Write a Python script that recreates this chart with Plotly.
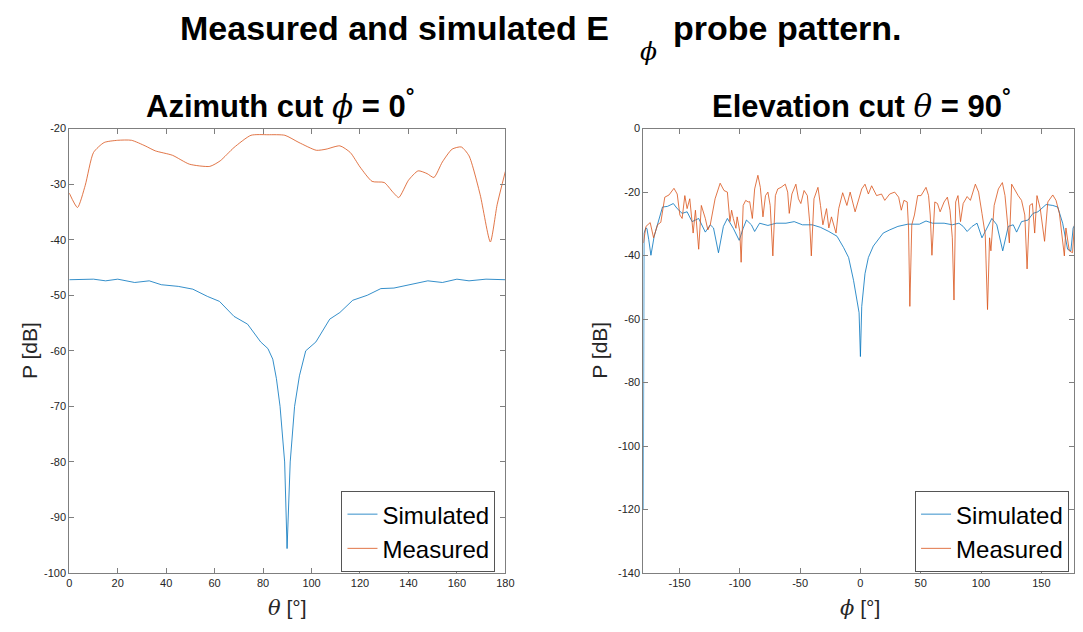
import plotly.graph_objects as go

# ---------------- data ----------------
# Left: azimuth cut (phi = 0), x = theta [deg]
az_sim_theta = [0, 5, 10, 15, 20, 27, 33, 38, 45, 51, 57, 62, 68, 73.6, 79, 82, 84, 85.5, 87, 88.9, 89.9,
                91.2, 93, 95, 97.6, 101.8, 107.5, 111.7, 117, 123, 128.6, 134, 141, 148, 154, 160, 165, 172, 180]
az_sim_val = [-47.2, -47.2, -47.1, -47.4, -47.1, -47.7, -47.4, -48.1, -48.4, -48.9, -50.2, -51.1, -53.8, -55.2,
              -58.4, -59.6, -61.5, -65.0, -70.0, -80.0, -95.6,
              -80.0, -70.0, -64.5, -60.0, -58.4, -54.3, -53.1, -50.9, -50.0, -48.8, -48.7, -48.1, -47.4, -47.7,
              -47.1, -47.4, -47.1, -47.2]

az_meas_theta = [0, 3.4, 6.6, 10, 14.4, 20, 25.7, 31.3, 35.5, 42.6, 49.6, 58, 62.3, 68, 75, 82, 89, 94.8, 102,
                 106, 111.7, 116, 120, 125, 130, 133.5, 136, 140, 144, 147.7, 150.5, 154, 158, 161.8, 165,
                 169.6, 173.8, 176.6, 180]
az_meas_val = [-31.6, -34.2, -30.2, -24.3, -22.5, -22.1, -22.1, -23.1, -24.0, -24.8, -26.4, -26.8, -25.8, -23.4,
               -21.2, -21.1, -21.2, -22.5, -23.9, -23.7, -23.1, -24.3, -26.9, -29.5, -29.7, -31.4, -32.4, -29.3,
               -27.6, -28.1, -28.8, -26.0, -23.7, -23.3, -24.9, -31.9, -40.4, -33.7, -27.7]

# Right: elevation cut (theta = 90), x = phi [deg]
el_sim_phi = [-180, -179.4, -178, -177, -175.5, -173.7, -171, -166.9, -164.1, -160, -155.1, -151.9, -147.8,
              -143.7, -139.6, -136.8, -134.1, -128.6, -124.5, -121.8, -117.7, -113.6, -110.3, -105.4, -100.5,
              -97.2, -94.5, -90.4, -87.7, -83.6, -76.7, -69.9, -61.7, -54.9, -48.1, -39.9, -33.1, -26.2, -19.4,
              -13.9, -9.8, -5.7, -3, -1.1, 0, 1.1, 3.8, 6.6, 10.7, 14.8, 18.9, 24.3, 31.1, 39.3, 48.9, 54.4,
              59.8, 69.4, 76.2, 81.7, 85.2, 88.5, 92.6, 96.7, 100.8, 103.5, 109, 113.1, 118, 122.6, 126.7,
              129.5, 133.6, 139, 143.1, 147.2, 154, 159.5, 163.6, 167.7, 171.8, 174.5, 176.4, 177.5]
el_sim_val = [-120, -33.0, -31.3, -31.5, -35.0, -39.9, -33.9, -28.3, -24.7, -24.5, -23.6, -25.2, -26.7,
              -26.2, -29.3, -28.8, -28.3, -32.6, -30.3, -31.3, -39.1, -30.8, -28.3, -31.4, -35.2,
              -31.4, -28.8, -30.3, -32.4, -29.8, -30.5, -29.8, -29.8, -29.3, -30.3, -30.3, -31.1, -32.4, -33.9,
              -37.5, -40.6, -47.8, -54.0, -58.0, -71.8, -56.0, -45.7, -40.6, -37.0, -35.0, -32.9, -31.9, -30.8,
              -30.1, -30.1, -29.1, -29.8, -29.8, -30.3, -29.8, -30.8, -32.4, -30.8, -29.8, -34.4, -32.4, -28.3,
              -30.3, -38.5, -30.8, -30.3, -32.6, -29.3, -28.8, -26.7, -26.2, -23.9, -24.2, -24.7, -29.8, -38.0,
              -38.5, -31.3, -30.5]

el_meas_phi = [-180, -179.7, -177.8, -174.3, -171.5, -168.2, -165.5, -162.2, -158.7, -154.6, -151.9, -149.7,
               -147.8, -145.6, -143.7, -141.5, -139.6, -138.7, -136.8, -134.1, -131.9, -128.6, -126.5, -124.5,
               -120.5, -116.3, -113.1, -110.3, -108.2, -106.8, -105.4, -103.2, -102.2, -100, -98.9, -97.2,
               -95.1, -93.1, -91.8, -89.6, -87.7, -85, -83, -80.8, -78.7, -76.7, -74.8, -72.6, -70.5, -68.5,
               -65.8, -62.3, -60.3, -59, -56.8, -53.5, -51.4, -49.4, -46.7, -44, -42.1, -40.7, -38.5, -35.2,
               -33.1, -31.1, -28.1, -26.2, -24, -22.1, -20.2, -18, -14.7, -11.2, -8.5, -4.4, -1.6, 1.1, 3.8,
               6.6, 9.3, 13.4, 17.5, 20.2, 24.3, 28.4, 31.7, 33.9, 36.1, 38.8, 39.9, 41, 42.6, 44.8, 47.5, 50.3,
               54.4, 56.5, 57.9, 59.3, 61.7, 63.9, 66.1, 69.4, 72.1, 74.3, 76.2, 77.6, 79, 80.9, 83, 85.2, 88.5,
               91.2, 95.3, 98, 100.8, 103.5, 105.4, 107.1, 108.2, 110.9, 114.4, 117.7, 119.9, 121.8, 123.5,
               125.4, 128.1, 130.8, 133.6, 136.3, 138.2, 140.4, 142.6, 144.5, 146.4, 149.1, 152.7, 155.4,
               159.5, 162.2, 165, 169.1, 170.4, 173.2, 175.9, 177.5]
el_meas_val = [-36.0, -35.5, -30.8, -29.6, -34.4, -30.3, -29.5, -21.6, -20.9, -18.8, -20.6, -27.2,
               -28.3, -21.1, -25.2, -22.1, -29.3, -32.9, -25.7, -38.0, -24.2, -28.3, -31.9, -30.3,
               -22.1, -17.2, -19.5, -20.0, -29.3, -25.7, -28.3, -31.4, -27.8, -32.4, -42.1, -24.2,
               -22.6, -23.1, -23.0, -28.3, -19.0, -14.7, -18.5, -27.8, -21.1, -20.0, -24.2, -40.1, -21.1, -19.0,
               -18.5, -17.5, -20.0, -26.7, -20.6, -17.5, -22.1, -23.6, -19.5, -21.1, -29.3, -40.1, -22.1, -18.5,
               -24.2, -30.3, -25.2, -31.3, -27.8, -30.8, -32.9, -25.2, -20.2, -24.2, -20.0, -26.2, -22.6, -19.0,
               -17.5, -20.6, -18.0, -21.1, -20.6, -22.6, -20.6, -20.0, -21.6, -25.7, -22.6, -23.1, -31.3, -56.0,
               -30.3, -27.2, -21.1, -21.1, -18.5, -21.1, -27.2, -39.9, -23.1, -23.6, -26.2, -23.1, -21.6, -25.7,
               -34.4, -54.0, -23.1, -21.1, -29.3, -23.6, -21.4, -22.6, -17.5, -20.0, -26.7, -33.4, -57.0, -34.4,
               -38.5, -24.2, -19.0, -17.0, -21.1, -30.3, -36.0, -17.5, -19.5, -21.1, -22.6, -27.2, -44.2, -24.2,
               -23.6, -32.9, -21.1, -25.2, -35.5, -23.1, -20.9, -22.6, -26.7, -40.1, -31.3, -38.5, -39.1, -30.0]

left_xticks = [0, 20, 40, 60, 80, 100, 120, 140, 160, 180]
left_yticks = [-100, -90, -80, -70, -60, -50, -40, -30, -20]
right_xticks = [-150, -100, -50, 0, 50, 100, 150]
right_yticks = [-140, -120, -100, -80, -60, -40, -20, 0]

BLUE = "#0072BD"
ORANGE = "#D95319"
AX = "#7f7f7f"
TXT = "#262626"
SANS = "Liberation Sans, Arial, Helvetica, sans-serif"
LW = 0.8

fig = go.Figure()
fig.add_trace(go.Scatter(x=az_sim_theta, y=az_sim_val, mode="lines", name="Simulated",
                         line=dict(color=BLUE, width=LW), xaxis="x", yaxis="y", legend="legend"))
fig.add_trace(go.Scatter(x=az_meas_theta, y=az_meas_val, mode="lines", name="Measured",
                         line=dict(color=ORANGE, width=LW, shape="spline", smoothing=0.6),
                         xaxis="x", yaxis="y", legend="legend"))
fig.add_trace(go.Scatter(x=el_sim_phi, y=el_sim_val, mode="lines", name="Simulated",
                         line=dict(color=BLUE, width=LW), xaxis="x2", yaxis="y2", legend="legend2"))
fig.add_trace(go.Scatter(x=el_meas_phi, y=el_meas_val, mode="lines", name="Measured",
                         line=dict(color=ORANGE, width=LW), xaxis="x2", yaxis="y2", legend="legend2"))


def axis(domain, rng, ticks, anchor):
    return dict(domain=domain, range=rng, anchor=anchor, tickmode="array", tickvals=ticks,
                ticktext=[str(t) for t in ticks], showgrid=False, zeroline=False, showline=True,
                linecolor=AX, linewidth=1, mirror="ticks", ticks="inside", ticklen=5, tickcolor=AX,
                tickfont=dict(family=SANS, size=11, color=TXT))


ydom = [1 - 578 / 632, 1 - 125 / 632]
legend_common = dict(font=dict(family=SANS, size=24, color="black"), bgcolor="white",
                     bordercolor="#555555", borderwidth=1, yanchor="bottom", xanchor="right",
                     tracegroupgap=0, itemwidth=30)

fig.update_layout(
    width=1083, height=632, margin=dict(l=0, r=0, t=0, b=0),
    paper_bgcolor="white", plot_bgcolor="white",
    xaxis=axis([67 / 1083, 508 / 1083], [0, 180], left_xticks, "y"),
    yaxis=axis(ydom, [-100, -20], left_yticks, "x"),
    xaxis2=axis([647.5 / 1083, 1.0], [-180, 177.1], right_xticks, "y2"),
    yaxis2=axis(ydom, [-140, 0], right_yticks, "x2"),
    legend=dict(x=498 / 1083, y=1 - 577 / 632, **legend_common),
    legend2=dict(x=1078 / 1083, y=1 - 577 / 632, **legend_common),
    showlegend=True,
)

phi_s = '<span style="font-family:DejaVu Serif;font-weight:normal"><i>ϕ</i></span>'
theta_s = '<span style="font-family:DejaVu Serif;font-weight:normal"><i>θ</i></span>'

ann = [
    dict(text="Measured and simulated E", x=615 / 1083, y=1 - 22 / 632, xanchor="right",
         font=dict(family=SANS, size=34, color="black", weight="bold")),
    dict(text="<i>ϕ</i>", x=653 / 1083, y=1 - 46 / 632, xanchor="center",
         font=dict(family="DejaVu Serif, serif", size=25, color="black")),
    dict(text="probe pattern.", x=675 / 1083, y=1 - 22 / 632, xanchor="left",
         font=dict(family=SANS, size=34, color="black", weight="bold")),
    dict(text="Azimuth cut " + phi_s + " = 0<sup>°</sup>", x=280 / 1083, y=1 - 100 / 632,
         font=dict(family=SANS, size=31, color="black", weight="bold")),
    dict(text="Elevation cut " + theta_s + " = 90<sup>°</sup>", x=868 / 1083, y=1 - 100 / 632,
         font=dict(family=SANS, size=31, color="black", weight="bold")),
    dict(text="P [dB]", x=27 / 1083, y=1 - 351 / 632, textangle=-90,
         font=dict(family=SANS, size=21, color=TXT)),
    dict(text="P [dB]", x=603 / 1083, y=1 - 351 / 632, textangle=-90,
         font=dict(family=SANS, size=21, color=TXT)),
    dict(text='<span style="font-family:DejaVu Serif"><i>θ</i></span> [°]', x=287.5 / 1083, y=1 - 614 / 632,
         font=dict(family=SANS, size=21, color=TXT)),
    dict(text='<span style="font-family:DejaVu Serif"><i>ϕ</i></span> [°]', x=867 / 1083, y=1 - 614 / 632,
         font=dict(family=SANS, size=21, color=TXT)),
]
for a in ann:
    a.setdefault("xanchor", "center")
    a.update(xref="paper", yref="paper", yanchor="middle", showarrow=False)
fig.update_layout(annotations=ann)

fig.write_html("out.html")
